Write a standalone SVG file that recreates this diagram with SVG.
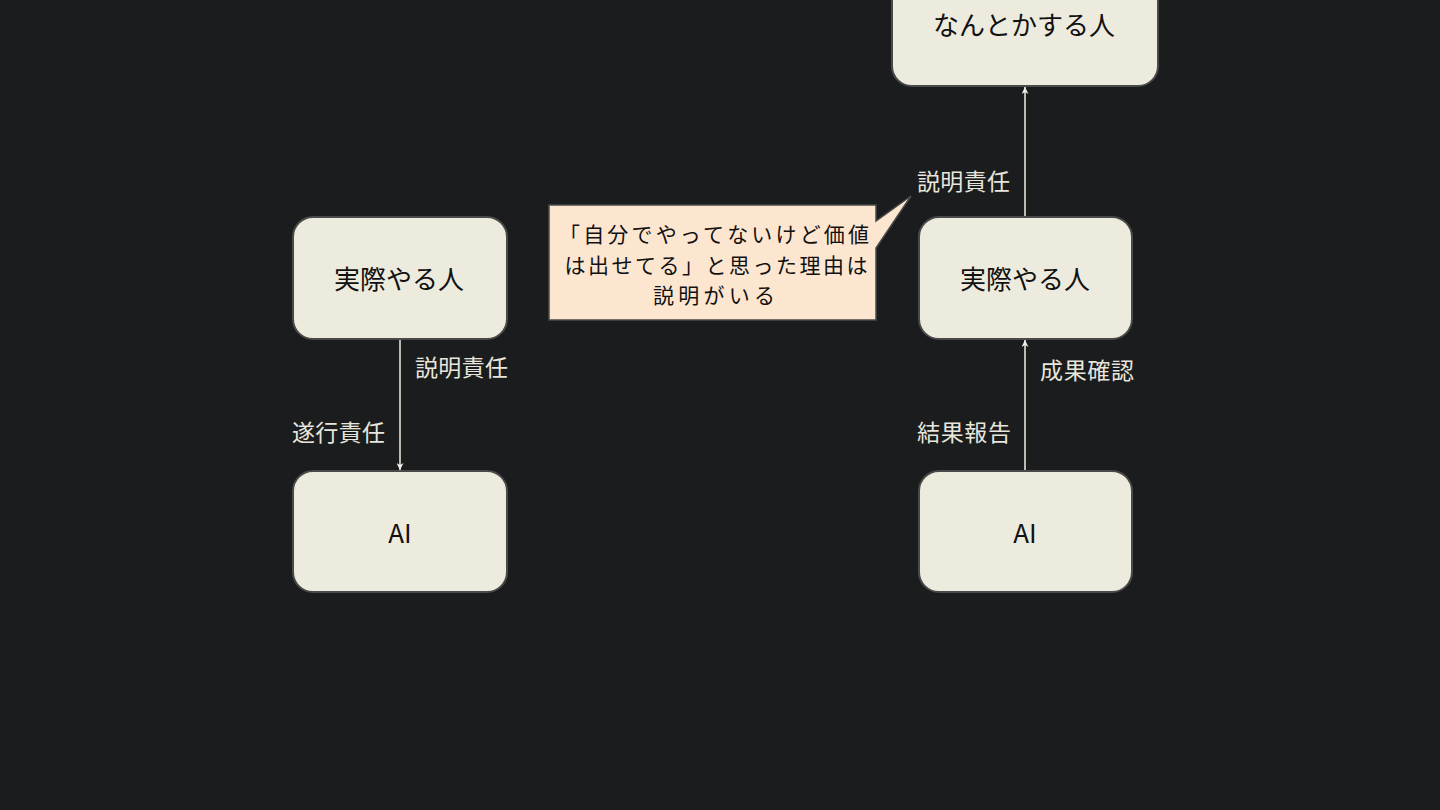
<svg xmlns="http://www.w3.org/2000/svg" width="1440" height="810" viewBox="0 0 1440 810">
<defs>
<style>
.node rect{fill:#edebdd;stroke:#4a4a4a;stroke-width:2}
.nt{font-family:"Noto Sans CJK JP","Noto Sans",sans-serif;font-size:26px;fill:#111;text-anchor:middle;dominant-baseline:central}
.lbl{font-family:"Noto Sans CJK JP","Noto Sans",sans-serif;font-size:23px;fill:#e8e6dc}
.edge{stroke:#f0efe8;stroke-width:1.5;fill:none;marker-end:url(#ah)}
.callt{font-family:"Noto Sans CJK JP","Noto Sans",sans-serif;font-size:21px;fill:#111;text-anchor:middle}
</style>
<marker id="ah" viewBox="0 0 10 10" refX="10" refY="5" markerWidth="9" markerHeight="7" markerUnits="userSpaceOnUse" orient="auto">
<path d="M0,0 L10,5 L0,10 L3,5 Z" fill="#f0efe8"/>
</marker>
</defs>
<rect width="1440" height="810" fill="#1b1c1e"/>
<g id="connectors">
<line class="edge" x1="400" y1="340" x2="400" y2="470"/>
<line class="edge" x1="1025" y1="470" x2="1025" y2="340"/>
<line class="edge" x1="1025" y1="216" x2="1025" y2="87"/>
</g>
<g id="labels">
<text class="lbl" x="415" y="376" textLength="93">説明責任</text>
<text class="lbl" x="292" y="441" textLength="93">遂行責任</text>
<text class="lbl" x="1040" y="379" textLength="94">成果確認</text>
<text class="lbl" x="917" y="441" textLength="94">結果報告</text>
<text class="lbl" x="917" y="190" textLength="93">説明責任</text>
</g>
<g id="node-top" class="node">
<rect x="892" y="-36" width="266" height="122" rx="20"/>
<text class="nt" x="1024" y="23">なんとかする人</text>
</g>
<g id="node-left-person" class="node">
<rect x="293" y="217" width="214" height="122" rx="20"/>
<text class="nt" x="399" y="277">実際やる人</text>
</g>
<g id="node-left-ai" class="node">
<rect x="293" y="471" width="214" height="121" rx="20"/>
<text class="nt" x="400" y="531">AI</text>
</g>
<g id="node-right-person" class="node">
<rect x="919" y="217" width="213" height="122" rx="20"/>
<text class="nt" x="1025" y="277">実際やる人</text>
</g>
<g id="node-right-ai" class="node">
<rect x="919" y="471" width="213" height="121" rx="20"/>
<text class="nt" x="1025" y="531">AI</text>
</g>
<g id="callout">
<path d="M549,205 L876,205 L876,221 L911,196 L876,248 L876,320 L549,320 Z" fill="#fde6d0" stroke="#4a4a4a" stroke-width="1.5"/>
<text class="callt" x="714" y="242" textLength="310">「自分でやってないけど価値</text>
<text class="callt" x="716" y="272.5" textLength="303">は出せてる」と思った理由は</text>
<text class="callt" x="714" y="303" textLength="122">説明がいる</text>
</g>
</svg>
